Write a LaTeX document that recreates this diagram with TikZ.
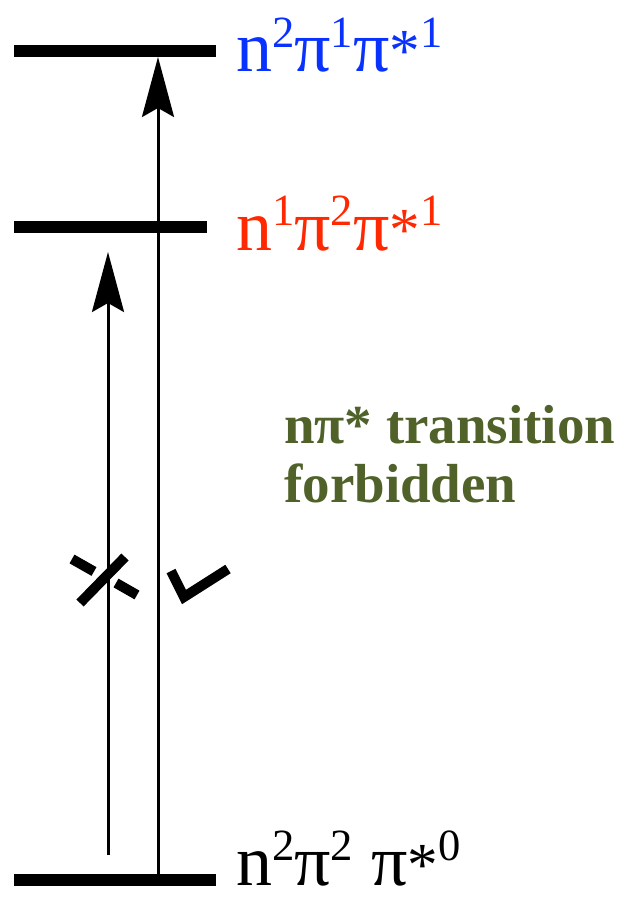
\documentclass[tikz,border=0pt]{standalone}
\usepackage{fontspec}
\setmainfont{Liberation Serif}
\usetikzlibrary{arrows.meta}
\definecolor{upperblue}{RGB}{10, 50, 255}
\definecolor{lowerred}{RGB}{255, 40, 0}
\definecolor{noteolive}{RGB}{80, 98, 42}

% occupation number as a raised small figure
\newcommand{\occ}[1]{\raisebox{0.34em}{\scalebox{0.62}{#1}}}
\newcommand{\pistar}{π\scalebox{0.85}{*}}

\begin{document}
\begin{tikzpicture}[x=1pt, y=-1pt, >={Stealth[length=60pt, width=32pt, inset=9pt]},
  level/.style={line width=12pt},
  jump/.style={->, line width=3pt},
  config/.style={anchor=base west, inner sep=0pt, font=\fontsize{72}{72}\selectfont},
  tick/.style={line width=10pt}]

  \useasboundingbox (0,0) rectangle (626,901);

  % --- Energy levels ---
  \draw[level] (14,51) -- (216,51);
  \draw[level] (14,227) -- (207,227);
  \draw[level] (14,880) -- (216,880);

  % --- Level labels ---
  \node[config, upperblue] (topLbl) at (236,72) {n\occ{2}π\occ{1}\pistar\occ{1}};
  \node[config, lowerred] (midLbl) at (236,250) {n\occ{1}π\occ{2}\pistar\occ{1}};
  \node[config] (lowLbl) at (236,885) {n\occ{2}π\occ{2} \pistar\occ{0}};

  % --- Transitions ---
  \coordinate (lowA) at (108,855);
  \coordinate (midA) at (108,252);
  \coordinate (lowB) at (158,878);
  \coordinate (topB) at (158,57);

  % Crossed (forbidden) mark
  \draw[tick] (80,603) -- (125,557);
  \draw[tick] (72,559) -- (94,571.5);
  \draw[tick] (116,583) -- (137,595);

  % Tick (allowed) mark
  \draw[tick, line join=miter] (171,571) -- (184,597) -- (228,569);

  \draw[jump] (lowA) -- (midA);
  \draw[jump] (lowB) -- (topB);

  % Note
  \node[anchor=base west, inner sep=0pt, align=left, noteolive,
    font=\bfseries\fontsize{55}{59}\selectfont] (note) at (284,502)
    {nπ* transition\\forbidden};

\end{tikzpicture}
\end{document}
